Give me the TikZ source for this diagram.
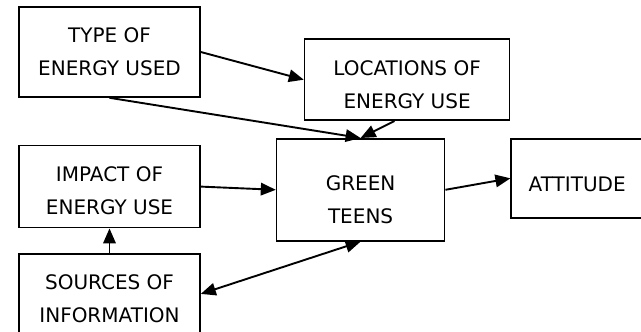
\documentclass[tikz,border=0pt]{standalone}
\usepackage{fontspec}
\setmainfont{DejaVu Sans}
\usetikzlibrary{arrows.meta, positioning}

\begin{document}
\begin{tikzpicture}[
            > = {Triangle[length=15pt, width=12.5pt]}, % arrow head style
            x = 1pt, y = -1pt, % one unit per pixel, y going down
            line width = 1.9pt % line style
        ]

        \tikzstyle{box}=[
            draw = black,
            line width = 1.6pt,
            rectangle,
            align = center,
            inner sep = 2pt,
            font = \fontsize{20}{33}\selectfont
        ]

        \useasboundingbox (0,0) rectangle (641,332);

        % text sits a little low in some boxes: taller text box above the last baseline
        \node[box, minimum width=181pt, minimum height=90pt] (type) at (109.5,52) {TYPE OF\\ENERGY USED};
        \node[box, minimum width=181pt, minimum height=82pt, text height=56.6pt, text depth=0pt] (impact) [below=47pt of type] {IMPACT OF\\ENERGY USE};
        \node[box, minimum width=181pt, minimum height=90pt] (sources) [below=24.5pt of impact] {SOURCES OF\\INFORMATION};
        \node[box, minimum width=205pt, minimum height=81pt, text height=56.6pt, text depth=0pt] (loc) [right=103pt of type, yshift=-27.7pt] {LOCATIONS OF\\ENERGY USE};
        \node[box, minimum width=168pt, minimum height=102pt, text height=66.8pt, text depth=0pt] (green) [right=75pt of impact, yshift=-3.2pt] {GREEN\\TEENS};
        \node[box, minimum width=132pt, minimum height=79pt, text height=26.6pt, text depth=0pt] (attitude) [right=65pt of green, yshift=11.5pt] {ATTITUDE};

        \draw[->] (type.east) -- (loc.west);
        \draw[->] (type.south) -- (green.north);
        \draw[->] (loc.253) -- (green.north);
        \draw[->] (impact.east) -- (green.west);
        \draw[->] (sources.north) -- (impact.south);
        \draw[<->] (green.south) -- (sources.3);
        \draw[->] (green.east) -- (attitude.west);

\end{tikzpicture}
\end{document}
